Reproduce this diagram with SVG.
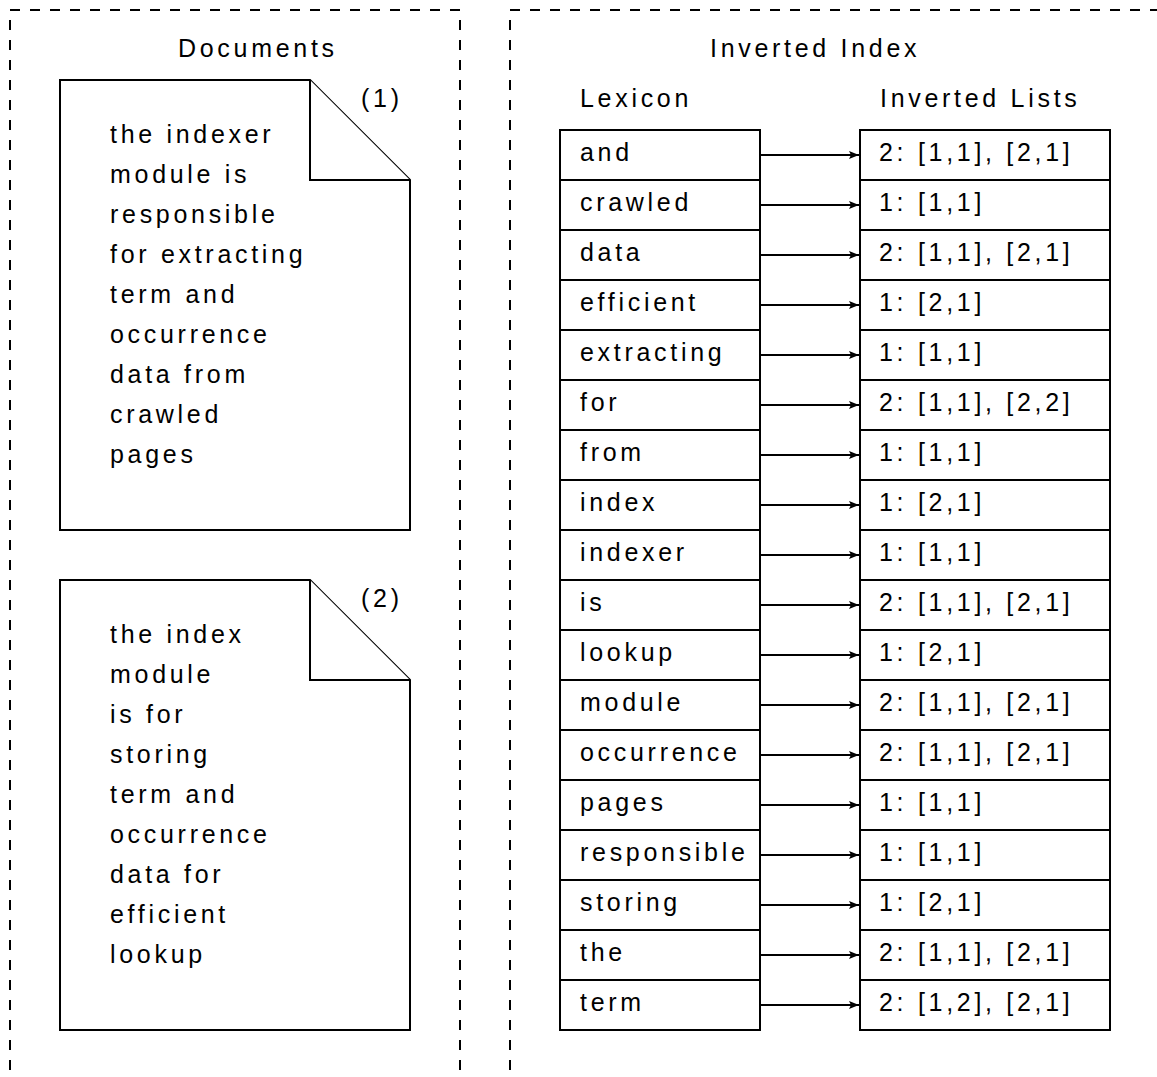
<svg xmlns="http://www.w3.org/2000/svg" width="1157" height="1077" viewBox="0 0 1157 1077">
  <style>
    text { font-family: "Liberation Sans", Arial, Helvetica, sans-serif; font-size: 25px; letter-spacing: 3.7px; fill: #000; }
    .frame { fill: none; stroke: #000; stroke-width: 2; stroke-dasharray: 10 10; }
    .doc { fill: #fff; stroke: #000; stroke-width: 2; stroke-linejoin: miter; }
    .cell { fill: #fff; stroke: #000; stroke-width: 2; }
    .arrow { fill: none; stroke: #000; stroke-width: 2; marker-end: url(#head); }
  </style>
  <defs>
    <marker id="head" markerUnits="userSpaceOnUse" markerWidth="11" markerHeight="10" refX="10" refY="5" orient="auto">
      <path d="M0,1 L10,5 L0,9 L2,5 Z" fill="#000"/>
    </marker>
  </defs>
  <rect width="1157" height="1077" fill="#fff"/>

  <!-- panel frames -->
  <g id="documents-panel">
    <rect class="frame" x="10" y="10" width="450" height="1100"/>
    <text x="178" y="57">Documents</text>
  </g>
  <g id="index-panel">
    <rect class="frame" x="510" y="10" width="700" height="1100"/>
    <text x="710" y="57">Inverted Index</text>
    <text x="580" y="107">Lexicon</text>
    <text x="880" y="107">Inverted Lists</text>
  </g>

  <!-- document 1 -->
  <g id="doc1">
    <path class="doc" d="M60,80 H310 L410,180 V530 H60 Z"/>
    <path class="doc" d="M310,80 V180 H410" fill="none"/>
    <text x="361" y="107">(1)</text>
    <text x="110" y="143">the indexer</text>
    <text x="110" y="183">module is</text>
    <text x="110" y="223">responsible</text>
    <text x="110" y="263">for extracting</text>
    <text x="110" y="303">term and</text>
    <text x="110" y="343">occurrence</text>
    <text x="110" y="383">data from</text>
    <text x="110" y="423">crawled</text>
    <text x="110" y="463">pages</text>
  </g>

  <!-- document 2 -->
  <g id="doc2">
    <path class="doc" d="M60,580 H310 L410,680 V1030 H60 Z"/>
    <path class="doc" d="M310,580 V680 H410" fill="none"/>
    <text x="361" y="607">(2)</text>
    <text x="110" y="643">the index</text>
    <text x="110" y="683">module</text>
    <text x="110" y="723">is for</text>
    <text x="110" y="763">storing</text>
    <text x="110" y="803">term and</text>
    <text x="110" y="843">occurrence</text>
    <text x="110" y="883">data for</text>
    <text x="110" y="923">efficient</text>
    <text x="110" y="963">lookup</text>
  </g>

  <!-- lexicon entries -->
  <g id="lexicon">
    <rect class="cell" x="560" y="130" width="200" height="50"/><text x="580" y="161">and</text>
    <rect class="cell" x="560" y="180" width="200" height="50"/><text x="580" y="211">crawled</text>
    <rect class="cell" x="560" y="230" width="200" height="50"/><text x="580" y="261">data</text>
    <rect class="cell" x="560" y="280" width="200" height="50"/><text x="580" y="311">efficient</text>
    <rect class="cell" x="560" y="330" width="200" height="50"/><text x="580" y="361">extracting</text>
    <rect class="cell" x="560" y="380" width="200" height="50"/><text x="580" y="411">for</text>
    <rect class="cell" x="560" y="430" width="200" height="50"/><text x="580" y="461">from</text>
    <rect class="cell" x="560" y="480" width="200" height="50"/><text x="580" y="511">index</text>
    <rect class="cell" x="560" y="530" width="200" height="50"/><text x="580" y="561">indexer</text>
    <rect class="cell" x="560" y="580" width="200" height="50"/><text x="580" y="611">is</text>
    <rect class="cell" x="560" y="630" width="200" height="50"/><text x="580" y="661">lookup</text>
    <rect class="cell" x="560" y="680" width="200" height="50"/><text x="580" y="711">module</text>
    <rect class="cell" x="560" y="730" width="200" height="50"/><text x="580" y="761">occurrence</text>
    <rect class="cell" x="560" y="780" width="200" height="50"/><text x="580" y="811">pages</text>
    <rect class="cell" x="560" y="830" width="200" height="50"/><text x="580" y="861">responsible</text>
    <rect class="cell" x="560" y="880" width="200" height="50"/><text x="580" y="911">storing</text>
    <rect class="cell" x="560" y="930" width="200" height="50"/><text x="580" y="961">the</text>
    <rect class="cell" x="560" y="980" width="200" height="50"/><text x="580" y="1011">term</text>
  </g>

  <!-- inverted lists -->
  <g id="lists">
    <rect class="cell" x="860" y="130" width="250" height="50"/><text x="879" y="161">2: [1,1], [2,1]</text>
    <rect class="cell" x="860" y="180" width="250" height="50"/><text x="879" y="211">1: [1,1]</text>
    <rect class="cell" x="860" y="230" width="250" height="50"/><text x="879" y="261">2: [1,1], [2,1]</text>
    <rect class="cell" x="860" y="280" width="250" height="50"/><text x="879" y="311">1: [2,1]</text>
    <rect class="cell" x="860" y="330" width="250" height="50"/><text x="879" y="361">1: [1,1]</text>
    <rect class="cell" x="860" y="380" width="250" height="50"/><text x="879" y="411">2: [1,1], [2,2]</text>
    <rect class="cell" x="860" y="430" width="250" height="50"/><text x="879" y="461">1: [1,1]</text>
    <rect class="cell" x="860" y="480" width="250" height="50"/><text x="879" y="511">1: [2,1]</text>
    <rect class="cell" x="860" y="530" width="250" height="50"/><text x="879" y="561">1: [1,1]</text>
    <rect class="cell" x="860" y="580" width="250" height="50"/><text x="879" y="611">2: [1,1], [2,1]</text>
    <rect class="cell" x="860" y="630" width="250" height="50"/><text x="879" y="661">1: [2,1]</text>
    <rect class="cell" x="860" y="680" width="250" height="50"/><text x="879" y="711">2: [1,1], [2,1]</text>
    <rect class="cell" x="860" y="730" width="250" height="50"/><text x="879" y="761">2: [1,1], [2,1]</text>
    <rect class="cell" x="860" y="780" width="250" height="50"/><text x="879" y="811">1: [1,1]</text>
    <rect class="cell" x="860" y="830" width="250" height="50"/><text x="879" y="861">1: [1,1]</text>
    <rect class="cell" x="860" y="880" width="250" height="50"/><text x="879" y="911">1: [2,1]</text>
    <rect class="cell" x="860" y="930" width="250" height="50"/><text x="879" y="961">2: [1,1], [2,1]</text>
    <rect class="cell" x="860" y="980" width="250" height="50"/><text x="879" y="1011">2: [1,2], [2,1]</text>
  </g>

  <!-- lexicon to list pointers -->
  <g id="connectors">
    <line class="arrow" x1="760" y1="155" x2="859" y2="155"/>
    <line class="arrow" x1="760" y1="205" x2="859" y2="205"/>
    <line class="arrow" x1="760" y1="255" x2="859" y2="255"/>
    <line class="arrow" x1="760" y1="305" x2="859" y2="305"/>
    <line class="arrow" x1="760" y1="355" x2="859" y2="355"/>
    <line class="arrow" x1="760" y1="405" x2="859" y2="405"/>
    <line class="arrow" x1="760" y1="455" x2="859" y2="455"/>
    <line class="arrow" x1="760" y1="505" x2="859" y2="505"/>
    <line class="arrow" x1="760" y1="555" x2="859" y2="555"/>
    <line class="arrow" x1="760" y1="605" x2="859" y2="605"/>
    <line class="arrow" x1="760" y1="655" x2="859" y2="655"/>
    <line class="arrow" x1="760" y1="705" x2="859" y2="705"/>
    <line class="arrow" x1="760" y1="755" x2="859" y2="755"/>
    <line class="arrow" x1="760" y1="805" x2="859" y2="805"/>
    <line class="arrow" x1="760" y1="855" x2="859" y2="855"/>
    <line class="arrow" x1="760" y1="905" x2="859" y2="905"/>
    <line class="arrow" x1="760" y1="955" x2="859" y2="955"/>
    <line class="arrow" x1="760" y1="1005" x2="859" y2="1005"/>
  </g>
</svg>
